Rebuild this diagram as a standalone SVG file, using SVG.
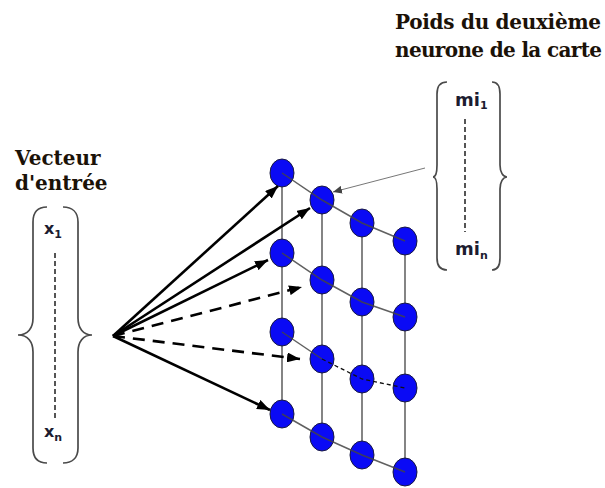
<svg xmlns="http://www.w3.org/2000/svg" width="605" height="488" viewBox="0 0 605 488">
<style>
.title{font-family:"DejaVu Serif","Liberation Serif",serif;font-weight:bold;font-size:20px;fill:#1b1208}
.var{font-family:"DejaVu Sans","Liberation Sans",sans-serif;font-weight:bold;fill:#1c1c30}
.brace{fill:none;stroke:#4a4a4a;stroke-width:1.7}
.dots{stroke:#555;stroke-width:2;stroke-dasharray:5 3}
.grid{stroke:#666;stroke-width:1.6;fill:none}
.row{stroke:#444;stroke-width:1.5;fill:none;stroke-opacity:0.85}
.rowd{stroke:#111;stroke-width:1.3;stroke-dasharray:4 3;fill:none}
.neuron{fill:#0a0af5;stroke:#1a1a40;stroke-width:1}
.arrow{stroke:#000;stroke-width:2.6;fill:none;marker-end:url(#ah)}
.darrow{stroke:#000;stroke-width:2.6;fill:none;stroke-dasharray:12 8;marker-end:url(#ah)}
.thin{stroke:#777;stroke-width:1;fill:none;marker-end:url(#ahs)}
</style>
<defs>
<marker id="ah" markerUnits="userSpaceOnUse" markerWidth="14" markerHeight="10" refX="13" refY="5" orient="auto">
<path d="M0,0 L13,5 L0,10 z" fill="#000"/>
</marker>
<marker id="ahs" markerUnits="userSpaceOnUse" markerWidth="10" markerHeight="8" refX="9" refY="4" orient="auto">
<path d="M0,0 L9,4 L0,8 z" fill="#444"/>
</marker>
</defs>
<rect width="605" height="488" fill="#fff"/>

<g id="title-poids">
<text class="title" x="395" y="29" textLength="206">Poids du deuxième</text>
<text class="title" x="395" y="57" textLength="207">neurone de la carte</text>
</g>

<g id="title-vecteur">
<text class="title" x="15" y="165">Vecteur</text>
<text class="title" x="15" y="190">d'entrée</text>
</g>

<g id="vector-x">
<path class="brace" d="M47,207 C38,207 33,212 33,222 L33,318 C33,328 28,335 18,335 C28,335 33,342 33,352 L33,448 C33,458 38,463 47,463"/>
<path class="brace" d="M63,207 C72,207 78,212 78,222 L78,318 C78,328 83,335 92,335 C83,335 78,342 78,352 L78,448 C78,458 72,463 63,463"/>
<text class="var" x="44" y="234" font-size="16">x<tspan font-size="11" dy="4">1</tspan></text>
<line class="dots" x1="55" y1="253" x2="55" y2="420"/>
<text class="var" x="44" y="437" font-size="16">x<tspan font-size="11" dy="4">n</tspan></text>
</g>

<g id="vector-mi">
<path class="brace" d="M447,82 C441,82 437,86 437,94 L437,165 C437,172 436,177 433,177 C436,177 437,182 437,189 L437,258 C437,266 441,270 447,270"/>
<path class="brace" d="M492,82 C498,82 500,86 500,94 L500,165 C500,172 503,177 507,177 C503,177 500,182 500,189 L500,258 C500,266 498,270 492,270"/>
<text class="var" x="455" y="105.5" font-size="18">mi<tspan font-size="11" dy="3.5">1</tspan></text>
<line class="dots" x1="465" y1="119" x2="465" y2="232"/>
<text class="var" x="455" y="255" font-size="18">mi<tspan font-size="11" dy="3.5">n</tspan></text>
</g>

<g id="grid-columns">
<line class="grid" x1="282" y1="173" x2="282" y2="414"/>
<line class="grid" x1="322" y1="200" x2="322" y2="437"/>
<line class="grid" x1="362" y1="223" x2="362" y2="455"/>
<line class="grid" x1="405" y1="241" x2="405" y2="472"/>
</g>

<g id="neurons">
<g id="n11"><ellipse class="neuron" cx="282" cy="173" rx="12" ry="14"/></g>
<g id="n12"><ellipse class="neuron" cx="322" cy="200" rx="12" ry="14"/></g>
<g id="n13"><ellipse class="neuron" cx="362" cy="223" rx="12" ry="14"/></g>
<g id="n14"><ellipse class="neuron" cx="405" cy="241" rx="12" ry="14"/></g>
<g id="n21"><ellipse class="neuron" cx="282" cy="253" rx="12" ry="14"/></g>
<g id="n22"><ellipse class="neuron" cx="322" cy="280" rx="12" ry="14"/></g>
<g id="n23"><ellipse class="neuron" cx="362" cy="302" rx="12" ry="14"/></g>
<g id="n24"><ellipse class="neuron" cx="405" cy="317" rx="12" ry="14"/></g>
<g id="n31"><ellipse class="neuron" cx="282" cy="332" rx="12" ry="14"/></g>
<g id="n32"><ellipse class="neuron" cx="322" cy="359" rx="12" ry="14"/></g>
<g id="n33"><ellipse class="neuron" cx="362" cy="379" rx="12" ry="14"/></g>
<g id="n34"><ellipse class="neuron" cx="405" cy="388" rx="12" ry="14"/></g>
<g id="n41"><ellipse class="neuron" cx="282" cy="414" rx="12" ry="14"/></g>
<g id="n42"><ellipse class="neuron" cx="322" cy="437" rx="12" ry="14"/></g>
<g id="n43"><ellipse class="neuron" cx="362" cy="455" rx="12" ry="14"/></g>
<g id="n44"><ellipse class="neuron" cx="405" cy="472" rx="12" ry="14"/></g>
</g>

<g id="connectors">
<polyline class="row" points="282,173 322,200 362,223 405,241"/>
<polyline class="row" points="282,253 322,280 362,302 405,317"/>
<line class="row" x1="282" y1="332" x2="322" y2="359"/>
<polyline class="rowd" points="322,359 362,379 405,388"/>
<polyline class="row" points="282,414 322,437 362,455 405,472"/>

<line class="arrow" x1="113" y1="336" x2="278" y2="186"/>
<line class="arrow" x1="113" y1="336" x2="310" y2="208"/>
<line class="arrow" x1="113" y1="336" x2="268" y2="260"/>
<line class="darrow" x1="113" y1="336" x2="302" y2="287"/>
<line class="darrow" x1="113" y1="336" x2="300" y2="359"/>
<line class="arrow" x1="113" y1="336" x2="270" y2="410"/>

<line class="thin" x1="425" y1="168" x2="333" y2="192"/>
</g>
</svg>
